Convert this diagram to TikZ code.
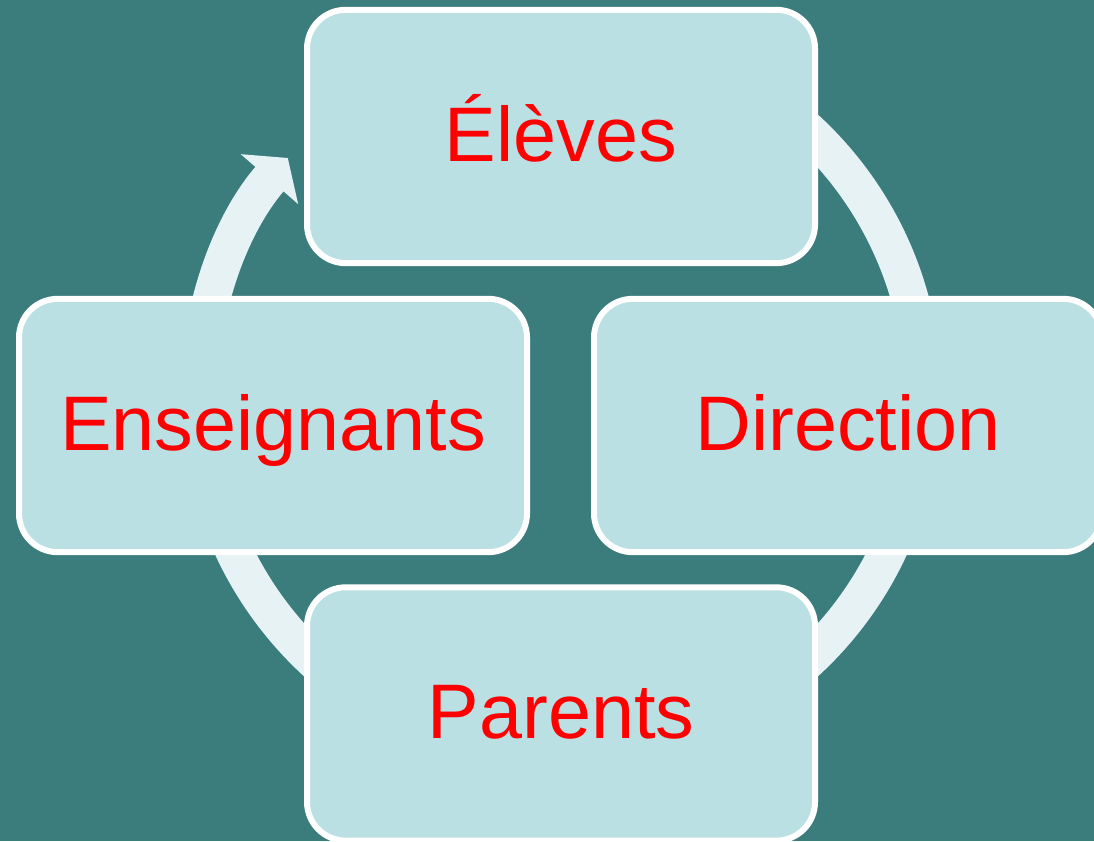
\documentclass[tikz,border=0pt]{standalone}
\usepackage{fontspec}
\setmainfont{Liberation Sans}
\usepackage{xcolor}
\usetikzlibrary{arrows.meta}
\definecolor{fondvert}{HTML}{3A7D7C}
\definecolor{boite}{HTML}{BBE0E3}
\definecolor{anneau}{HTML}{E6F2F4}

\begin{document}
\begin{tikzpicture}[x=0.75pt, y=0.75pt]
	% ------- style -------
	\tikzset{%
		acteur/.style={%
			draw=white, line width=4.5pt, fill=boite,
			rounded corners=29pt,
			minimum width=381pt, minimum height=190pt,
			text=red, font=\fontsize{58}{70}\selectfont,
			text height=37pt, text depth=0pt,
		},
		anneau/.style={draw=anneau, line width=28pt},
	}
	
	% ------- background -------
	\fill[fondvert] (0,0) rectangle (1094,841);
	\useasboundingbox (0,0) rectangle (1094,841);
	
	% ------- cycle -------
	\coordinate (centre) at (561,445.5);
	\draw[anneau, -{Triangle[length=21pt, width=56pt]}]
	([shift={(90:362)}]centre) arc[start angle=90, end angle=-221, radius=362];
	
	% ------- nodes -------
	\node[acteur] (eleves)      at (561,704.5) {Élèves};
	\node[acteur] (enseignants) at (273,415.5) {Enseignants};
	\node[acteur] (direction)   at (848,415.5) {Direction};
	\node[acteur] (parents)     at (561,127)   {Parents};
\end{tikzpicture}
\end{document}
